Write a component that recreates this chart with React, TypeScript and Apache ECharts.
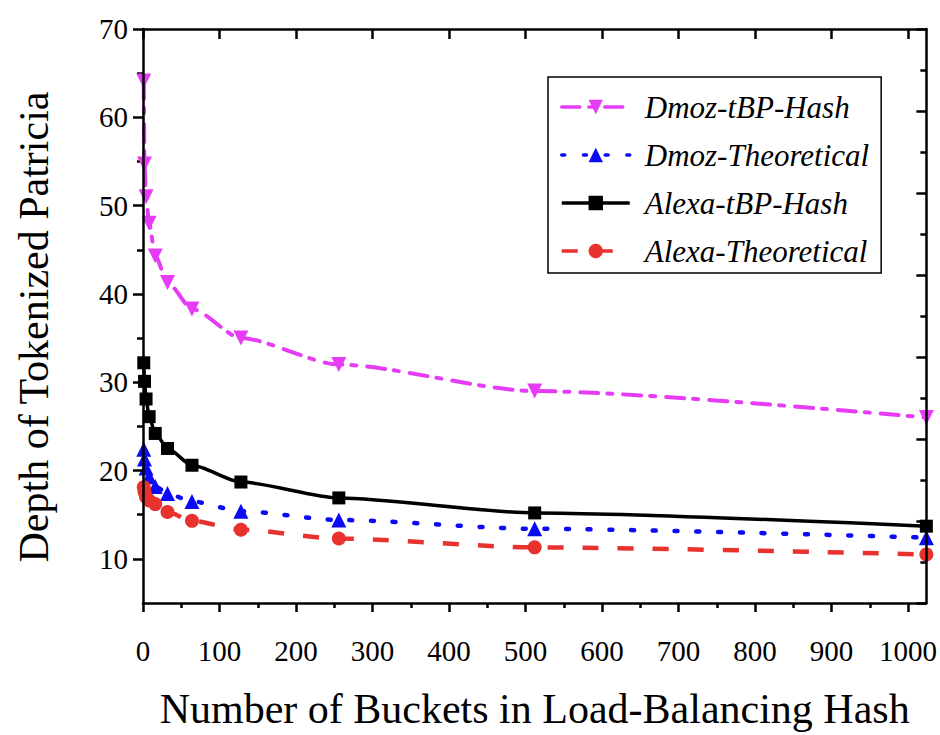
import React, { useEffect, useRef } from "react";
import * as echarts from "echarts";

const xValues = [1, 2, 4, 8, 16, 32, 64, 128, 256, 512, 1024];
const dmozHash = [64.1, 54.7, 51.0, 48.0, 44.3, 41.3, 38.3, 35.0, 32.0, 29.0, 26.0];
const dmozTheo = [22.4, 21.3, 20.3, 19.3, 18.2, 17.4, 16.5, 15.4, 14.4, 13.4, 12.4];
const alexaHash = [32.2, 30.1, 28.1, 26.1, 24.2, 22.5, 20.6, 18.7, 16.9, 15.2, 13.7];
const alexaTheo = [18.1, 17.6, 17.0, 16.6, 16.2, 15.3, 14.3, 13.3, 12.3, 11.3, 10.5];

const xMajorTicks = [0, 100, 200, 300, 400, 500, 600, 700, 800, 900, 1000];
const xMinorTicks = [50, 150, 250, 350, 450, 550, 650, 750, 850, 950];
const yMajorTicks = [10, 20, 30, 40, 50, 60, 70];
const yMinorTicks = [15, 25, 35, 45, 55, 65];
const rightMajorTicks = [0, 10, 20, 30, 40, 50, 60, 70];
const rightMinorTicks = [5, 15, 25, 35, 45, 55, 65];

const FONT = "'Liberation Serif', 'Times New Roman', serif";

const MAGENTA = "#E63CF5";
const BLUE = "#0A0AF5";
const BLACK = "#000000";
const RED = "#E8322E";

export default function App() {
  const ref = useRef<HTMLDivElement>(null);
  useEffect(() => {
    const chart = echarts.init(ref.current!, null, { renderer: "svg" });
    const axisLineStyle = { color: "#000", width: 2.5 };
    const tickLine = { color: "#000", width: 2.5 };
    const pts = (ys: number[]) => xValues.map((x, i) => [x, ys[i]]);
    const plain = (v: number) => String(v);
    const option: any = {
      animation: false,
      backgroundColor: "#fff",
      grid: { left: 143, right: 13, top: 29, bottom: 123, containLabel: false },
      xAxis: [
        {
          type: "value", position: "bottom", min: 0, max: 1024, z: 5,
          splitLine: { show: false },
          axisLine: { show: true, onZero: false, lineStyle: axisLineStyle },
          axisTick: { show: true, inside: false, length: 9, lineStyle: tickLine, customValues: xMajorTicks },
          axisLabel: { show: true, customValues: xMajorTicks, formatter: plain, margin: 33, fontFamily: FONT, fontSize: 29, color: "#000" },
          name: "Number of Buckets in Load-Balancing Hash",
          nameLocation: "middle", nameGap: 85,
          nameTextStyle: { fontFamily: FONT, fontSize: 42, color: "#000" },
        },
        {
          type: "value", position: "bottom", min: 0, max: 1024,
          splitLine: { show: false },
          axisLine: { show: false, onZero: false },
          axisTick: { show: true, inside: false, length: 5, lineStyle: tickLine, customValues: xMinorTicks },
          axisLabel: { show: false },
        },
        {
          type: "value", position: "top", min: 0, max: 1024, z: 5,
          splitLine: { show: false },
          axisLine: { show: true, onZero: false, lineStyle: axisLineStyle },
          axisTick: { show: true, inside: true, length: 10, lineStyle: tickLine, customValues: xMajorTicks },
          axisLabel: { show: false },
        },
      ],
      yAxis: [
        {
          type: "value", position: "left", min: 5, max: 70, z: 5,
          splitLine: { show: false },
          axisLine: { show: true, onZero: false, lineStyle: axisLineStyle },
          axisTick: { show: true, inside: false, length: 10, lineStyle: tickLine, customValues: yMajorTicks },
          axisLabel: { show: true, customValues: yMajorTicks, formatter: plain, margin: 15, fontFamily: FONT, fontSize: 29, color: "#000" },
          name: "Depth of Tokenized Patricia",
          nameLocation: "middle", nameGap: 88,
          nameTextStyle: { fontFamily: FONT, fontSize: 42, color: "#000", padding: [0, 22, 0, 0] },
        },
        {
          type: "value", position: "left", min: 5, max: 70,
          splitLine: { show: false },
          axisLine: { show: false, onZero: false },
          axisTick: { show: true, inside: false, length: 6, lineStyle: tickLine, customValues: yMinorTicks },
          axisLabel: { show: false },
        },
        {
          type: "value", position: "right", min: 0, max: 70, z: 5,
          splitLine: { show: false },
          axisLine: { show: true, onZero: false, lineStyle: axisLineStyle },
          axisTick: { show: true, inside: true, length: 10, lineStyle: tickLine, customValues: rightMajorTicks },
          axisLabel: { show: false },
        },
        {
          type: "value", position: "right", min: 0, max: 70,
          splitLine: { show: false },
          axisLine: { show: false, onZero: false },
          axisTick: { show: true, inside: true, length: 6, lineStyle: tickLine, customValues: rightMinorTicks },
          axisLabel: { show: false },
        },
      ],
      legend: {
        orient: "vertical",
        left: 548,
        top: 77,
        data: ["Dmoz-tBP-Hash", "Dmoz-Theoretical", "Alexa-tBP-Hash", "Alexa-Theoretical"],
        itemWidth: 68,
        itemHeight: 18,
        itemGap: 14,
        padding: [13, 12, 5, 12],
        borderColor: "#000",
        borderWidth: 1.5,
        backgroundColor: "#fff",
        lineStyle: { width: 3.5 },
        textStyle: { fontFamily: FONT, fontStyle: "italic", fontSize: 31, lineHeight: 34, color: "#000", padding: [0, 0, 0, 10] },
      },
      series: [
        {
          name: "Dmoz-tBP-Hash", type: "line", data: pts(dmozHash),
          symbol: "triangle", symbolRotate: 180, symbolSize: 15,
          smooth: 0.25, smoothMonotone: "x",
          lineStyle: { color: MAGENTA, width: 4, type: [18, 9, 5, 11], cap: "round" },
          itemStyle: { color: MAGENTA },
        },
        {
          name: "Dmoz-Theoretical", type: "line", data: pts(dmozTheo),
          symbol: "triangle", symbolSize: 15,
          smooth: 0.25, smoothMonotone: "x",
          lineStyle: { color: BLUE, width: 4.5, type: [3, 18.7], cap: "round" },
          itemStyle: { color: BLUE },
        },
        {
          name: "Alexa-tBP-Hash", type: "line", data: pts(alexaHash),
          symbol: "rect", symbolSize: 13,
          smooth: 0.25, smoothMonotone: "x",
          lineStyle: { color: BLACK, width: 3.5 },
          itemStyle: { color: BLACK },
        },
        {
          name: "Alexa-Theoretical", type: "line", data: pts(alexaTheo),
          symbol: "circle", symbolSize: 14,
          smooth: 0.25, smoothMonotone: "x",
          lineStyle: { color: RED, width: 4.5, type: [16, 19] },
          itemStyle: { color: RED },
        },
      ],
    };
    chart.setOption(option);
    return () => chart.dispose();
  }, []);
  return <div ref={ref} style={{ position: "absolute", left: 0, top: 0, width: 940, height: 735 }} />;
}
